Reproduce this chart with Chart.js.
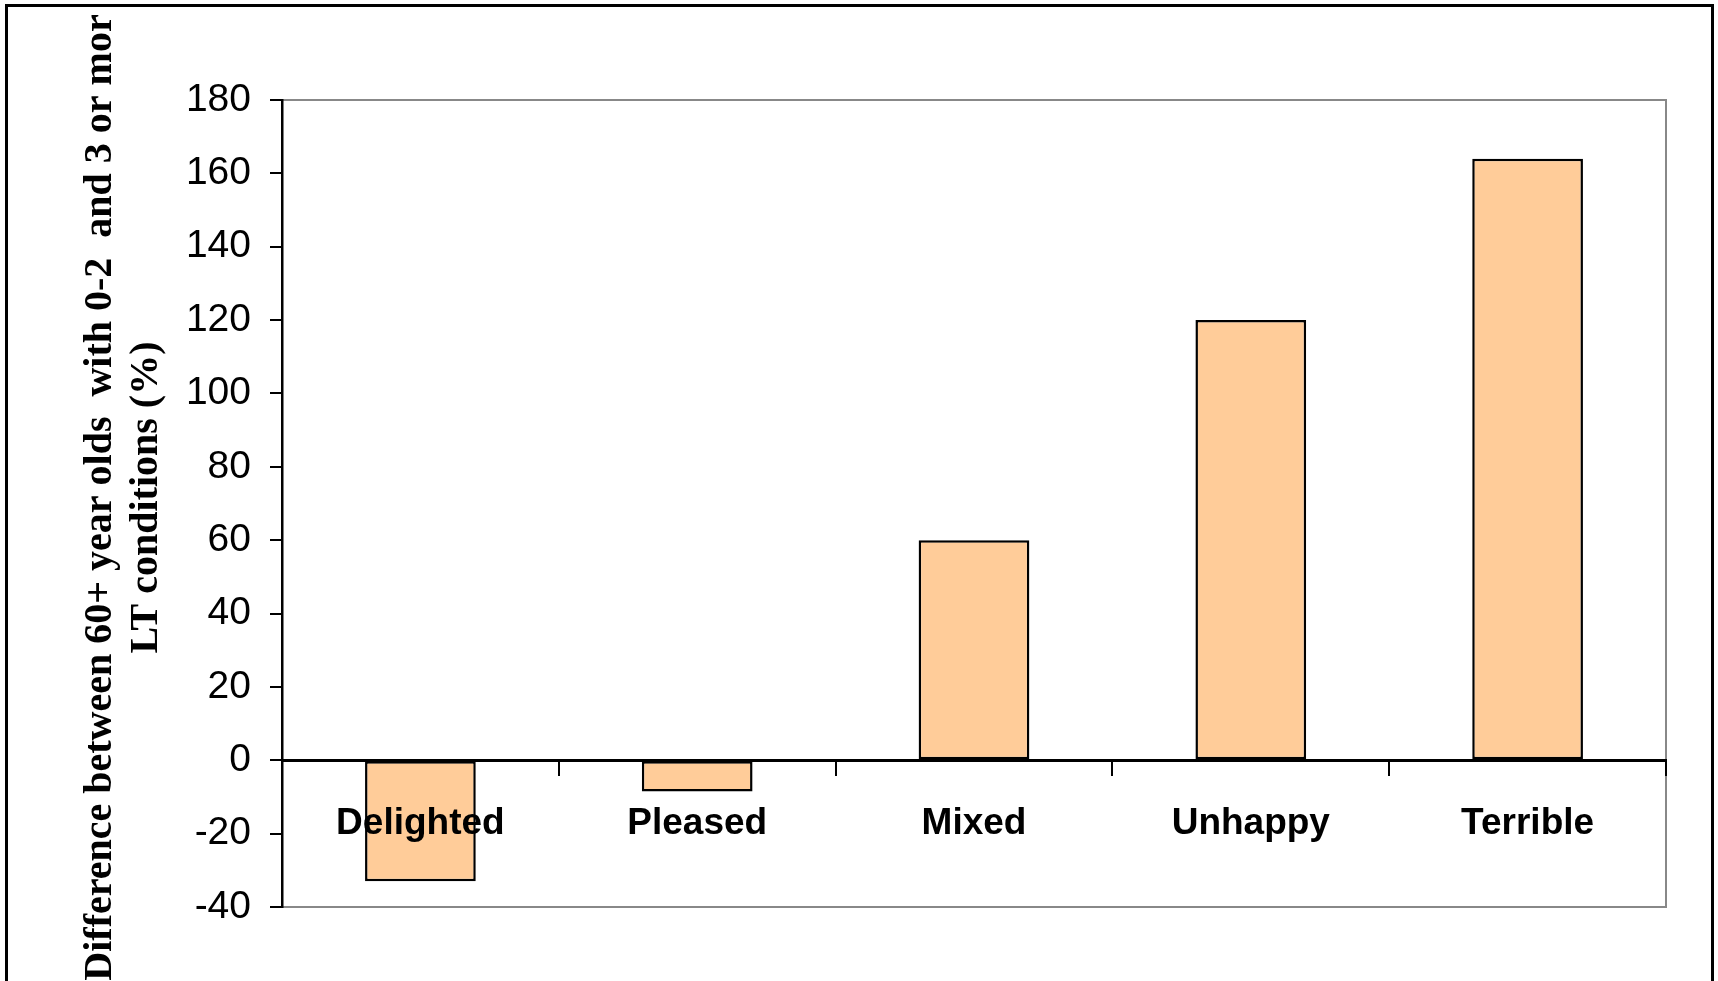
<!DOCTYPE html>
<html>
<head>
<meta charset="utf-8">
<script src="https://cdn.jsdelivr.net/npm/chart.js@4/dist/chart.umd.min.js"></script>
<style>
  body { margin: 0; background: #fff; }
  #wrap { position: relative; width: 1718px; height: 981px; overflow: hidden; }
  #frame { position: absolute; left: 5px; top: 4px; width: 1709px; height: 1000px;
           border: 3px solid #000; border-bottom: none; box-sizing: border-box; }
  #chartBox { position: absolute; left: 0; top: 0; width: 1718px; height: 981px; }
</style>
</head>
<body>
<div id="wrap">
  <div id="frame"></div>
  <div id="chartBox"><canvas id="diffChart"></canvas></div>
</div>
<script>
// categories and values
const categories = ["Delighted", "Pleased", "Mixed", "Unhappy", "Terrible"];
const differences = [-33, -8.5, 60, 120, 164];

// y axis range
const yMin = -40;
const yMax = 180;
const yStep = 20;

// the axis title, two lines as in the original (first one is cut short there too)
const yTitleLines = [
    "Difference between 60+ year olds  with 0-2  and 3 or mor",
    "LT conditions (%)"
];

//grey frame round the plot area (top, right, bottom)
const plotFrame = {
    id: "plotFrame",
    beforeDraw(chart) {
        const a = chart.chartArea;
        const ctx = chart.ctx;
        ctx.save();
        ctx.strokeStyle = "#888888";
        ctx.lineWidth = 2;
        ctx.strokeRect(a.left, a.top, a.right - a.left, a.bottom - a.top);
        ctx.restore();
    }
};

//rotated y title, drawn by hand so the canvas does not squeeze it to the axis height
const yTitle = {
    id: "yTitle",
    afterDraw(chart) {
        const a = chart.chartArea;
        const ctx = chart.ctx;
        ctx.save();
        ctx.translate(chart.scales.y.left + 111, (a.top + a.bottom) / 2 - 6);
        ctx.rotate(-Math.PI / 2);
        ctx.fillStyle = "#000";
        ctx.font = "bold 40px 'Liberation Serif', 'Times New Roman', serif";
        ctx.textAlign = "center";
        ctx.textBaseline = "alphabetic";
        yTitleLines.forEach((line, i) => ctx.fillText(line, 0, i * 46));
        ctx.restore();
    }
};

const ctx = document.getElementById("diffChart").getContext("2d");
const diffChart = new Chart(ctx, {
    type: "bar",
    data: {
        labels: categories,
        datasets: [{
            data: differences,
            backgroundColor: "#FFCC99",
            borderColor: "#000000",
            borderWidth: 2.5,
            borderSkipped: false,
            barPercentage: 0.4,
            categoryPercentage: 1
        }]
    },
    options: {
        responsive: true,
        maintainAspectRatio: false,
        animation: false,
        layout: { padding: { top: 100, right: 52, bottom: 74, left: 0 } },
        plugins: {
            legend: { display: false },
            tooltip: { enabled: false }
        },
        scales: {
            x: {
                position: { y: 0 },
                grid: { drawOnChartArea: false, drawTicks: true, tickLength: 14, color: "#000", lineWidth: 2, offset: true },
                border: { display: true, color: "#000", width: 3, z: 1 },
                ticks: {
                    z: 1, // labels sit on top of the bars like in the original
                    color: "#000",
                    padding: 27,
                    maxRotation: 0,
                    autoSkip: false,
                    font: { family: "'Liberation Sans', Arial, sans-serif", size: 37, weight: "bold" }
                }
            },
            y: {
                min: yMin,
                max: yMax,
                afterFit: (scale) => { scale.width = 282; },
                grid: { drawOnChartArea: false, drawTicks: true, tickLength: 12, color: "#000", lineWidth: 2 },
                border: { display: true, color: "#000", width: 2.5 },
                ticks: {
                    stepSize: yStep,
                    color: "#000",
                    padding: 19,
                    font: { family: "'Liberation Sans', Arial, sans-serif", size: 39 }
                }
            }
        }
    },
    plugins: [plotFrame, yTitle]
});
</script>
</body>
</html>
